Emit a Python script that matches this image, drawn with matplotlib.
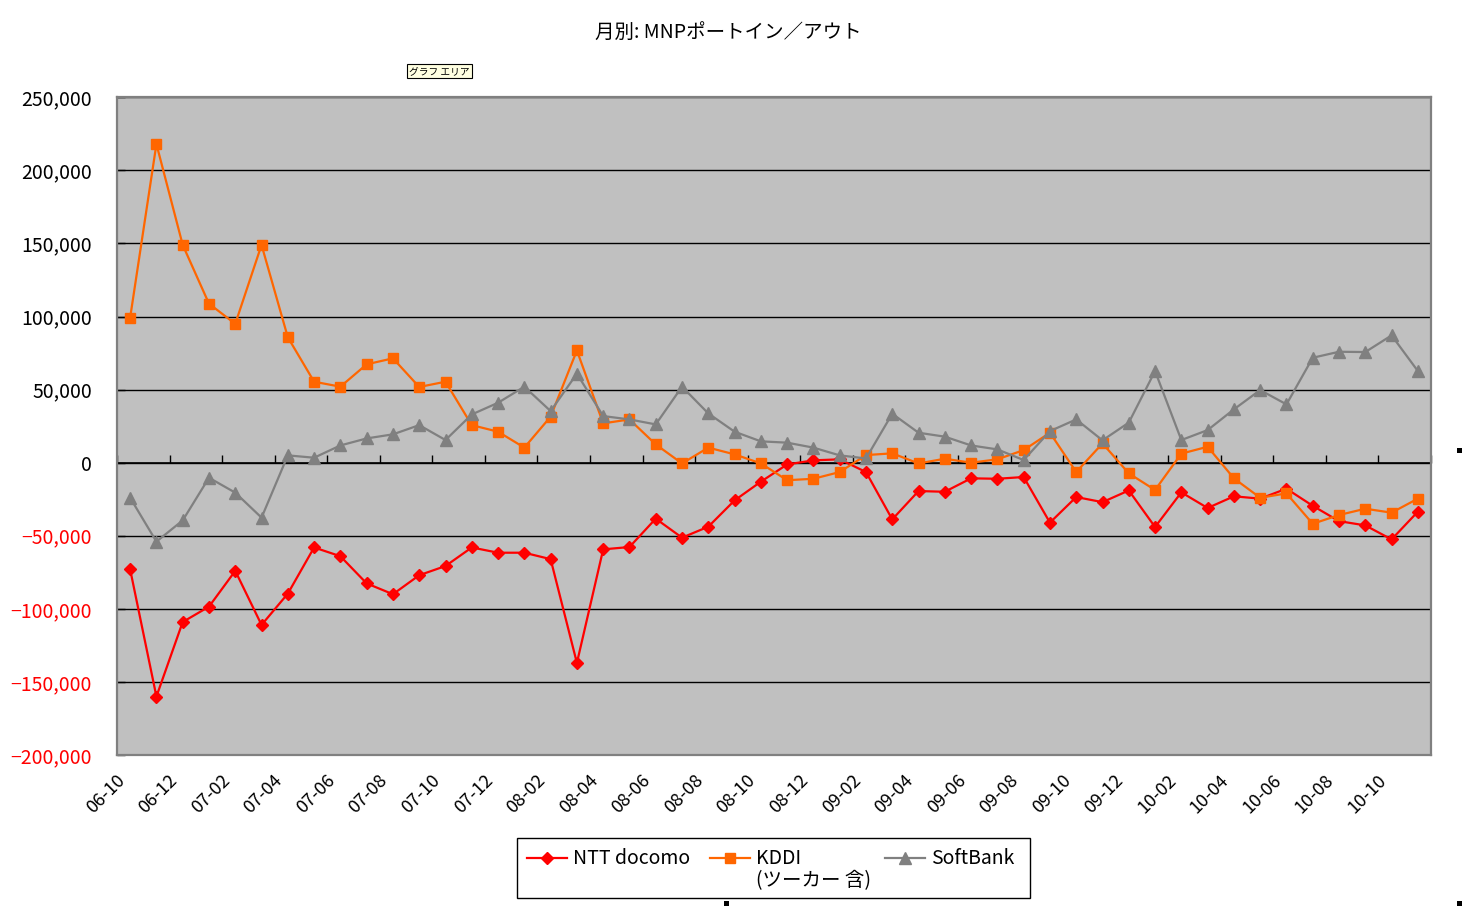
#coding: utf-8
import matplotlib
matplotlib.use("Agg")
import matplotlib.pyplot as plt
import matplotlib.transforms as mtransforms
from matplotlib.lines import Line2D
from matplotlib.patches import Rectangle
import numpy as np

plt.rcParams['font.family'] = ['Noto Sans CJK JP', 'DejaVu Sans']

# month labels 06-10 .. 10-11
months = ["%02d-%02d" % (6 + (9 + i) // 12, (9 + i) % 12 + 1) for i in range(50)]

docomo = [-73000, -160000, -109000, -98500, -74000, -111000, -89600, -58000, -64000, -82600,
          -90000, -77000, -70700, -58000, -61600, -61600, -66000, -137000, -59300, -57700,
          -38300, -51300, -43800, -25800, -13000, -1200, 1600, 2300, -6400, -38800,
          -19400, -19900, -10700, -11000, -9800, -41000, -23500, -27000, -19000, -44000,
          -20300, -31000, -23000, -24600, -17800, -29500, -40000, -42900, -52500, -33500]
kddi = [99200, 218000, 149000, 108800, 95000, 149000, 85800, 55400, 52000, 67300,
        71400, 51800, 55400, 25700, 21200, 10300, 31500, 76800, 26900, 29600,
        12500, -500, 10300, 5700, -500, -12000, -11000, -6400, 5200, 6400,
        -500, 2700, 0, 2300, 8600, 20500, -6400, 13200, -7300, -18700,
        6200, 10900, -10700, -24000, -21000, -41800, -35800, -31500, -34200, -24600]
softbank = [-24000, -54000, -39500, -10300, -20500, -37600, 5000, 3400, 11800, 16600,
            19400, 25700, 15500, 33000, 41000, 52000, 35300, 60900, 31900, 29600,
            26200, 52000, 33700, 21200, 14600, 13700, 10300, 5000, 2900, 33500,
            20500, 17800, 11800, 9100, 1800, 21600, 29600, 15300, 27400, 62700,
            15500, 22300, 36500, 49700, 39900, 71800, 75900, 75700, 87100, 62700]

series = [("NTT docomo", docomo, "#FF0000", "D", 6),
          ("KDDI", kddi, "#FF6600", "s", 7.5),
          ("SoftBank", softbank, "#808080", "^", 8.5)]

yticks = list(range(-200000, 250001, 50000))

W, H = 1462, 907
fig = plt.figure(figsize=(W / 100, H / 100), dpi=100)
ax = fig.add_axes([117 / W, 1 - 755 / H, (1431 - 117) / W, (755 - 97.3) / H])
ax.set_facecolor("#C0C0C0")

x = np.arange(len(months))
for name, vals, col, mk, ms in series:
    ax.plot(x, vals, color=col, lw=1.6, marker=mk, markersize=ms,
            markerfacecolor=col, markeredgecolor=col, zorder=3)

ax.set_xlim(-0.5, len(months) - 0.5)
ax.set_ylim(-200000, 250000)

# gridlines
ax.set_yticks(yticks)
ax.yaxis.grid(True, color="black", lw=1)
ax.set_axisbelow(True)
ax.set_yticklabels([f"{v:,}".replace("-", "\u2212") for v in yticks], fontsize=14)
for lab, v in zip(ax.get_yticklabels(), yticks):
    lab.set_color("red" if v < 0 else "black")
ax.tick_params(axis="y", direction="in", length=6, width=1, color="black", pad=18)

# category labels
ax.set_xticks(x[::2])
ax.set_xticklabels(months[::2], rotation=45, ha="right", va="center",
                   rotation_mode="anchor", fontsize=13)
ax.tick_params(axis="x", length=0, pad=16)
offset = mtransforms.ScaledTranslation(-8 / 100, 0, fig.dpi_scale_trans)
for lab in ax.get_xticklabels():
    lab.set_transform(lab.get_transform() + offset)

for sp in ax.spines.values():
    sp.set_color("#808080")
    sp.set_linewidth(1.6)

# category axis at zero with inward ticks between category pairs
zero_frac = (0 - (-200000)) / (250000 - (-200000))
sec = ax.secondary_xaxis(zero_frac)
sec.set_xticks(np.arange(-0.5, len(months), 2))
sec.tick_params(direction="in", length=6, width=1, color="black", labelbottom=False, labeltop=False)
sec.spines["bottom"].set_color("black")
sec.spines["bottom"].set_linewidth(1.2)

fig.text(728 / W, 1 - 32 / H, "月別: MNPポートイン／アウト", ha="center", va="center", fontsize=14)

# tooltip
fig.text(409 / W, 1 - 71 / H, "グラフ エリア", ha="left", va="center", fontsize=7,
         bbox=dict(boxstyle="square,pad=0.2", facecolor="#FFFFE1", edgecolor="black", lw=0.8))

# legend
fig.add_artist(Rectangle((517 / W, 1 - 898 / H), (1030 - 517) / W, 60 / H,
                         transform=fig.transFigure, fill=False, edgecolor="black", lw=1))
leg_y = 1 - 858 / H
for (name, vals, col, mk, ms), x0 in zip(series, [527, 710, 885]):
    fig.add_artist(Line2D(np.array([x0, x0 + 20, x0 + 40]) / W, [leg_y] * 3,
                          transform=fig.transFigure, color=col, lw=1.6, marker=mk,
                          markersize=ms, markevery=[1], markerfacecolor=col, markeredgecolor=col))
    fig.text((x0 + 46) / W, leg_y, name, ha="left", va="center", fontsize=14)
fig.text(756 / W, 1 - 881 / H, "(ツーカー 含)", ha="left", va="center", fontsize=14)

# selection handles
for hx, hy in [(727, 903), (1460, 450), (1460, 903)]:
    fig.add_artist(Rectangle(((hx - 3) / W, 1 - (hy + 3) / H), 5 / W, 5 / H,
                             transform=fig.transFigure, facecolor="black", edgecolor="none"))

fig.savefig("out.png", dpi=100)
